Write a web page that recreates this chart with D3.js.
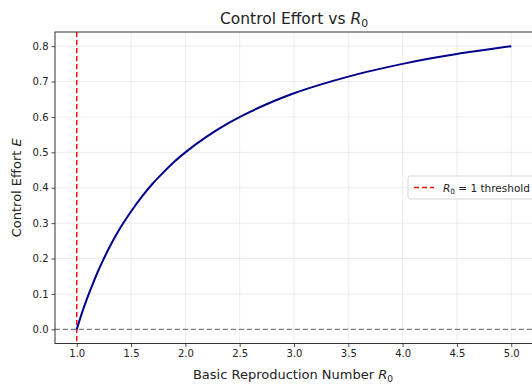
<!DOCTYPE html>
<html>
<head>
<meta charset="UTF-8">
<script src="https://d3js.org/d3.v7.min.js"></script>
<style>
  body { margin: 0; background: #fff; font-family: 'DejaVu Sans', sans-serif; }
  svg text { fill: #222; }
</style>
</head>
<body>
<svg id="chart" width="532" height="385"></svg>
<script>
// R0 values and control effort
const r0 = [1.0, 1.05, 1.1, 1.15, 1.2, 1.25, 1.3, 1.4, 1.5, 1.6, 1.7, 1.8, 1.9, 2.0,
            2.2, 2.4, 2.6, 2.8, 3.0, 3.25, 3.5, 3.75, 4.0, 4.25, 4.5, 4.75, 5.0];
const effort = [0.0, 0.048, 0.091, 0.130, 0.167, 0.200, 0.231, 0.286, 0.333, 0.375, 0.412, 0.444, 0.474, 0.500,
                0.545, 0.583, 0.615, 0.643, 0.667, 0.692, 0.714, 0.733, 0.750, 0.765, 0.778, 0.789, 0.800];
const xTicks = [1.0, 1.5, 2.0, 2.5, 3.0, 3.5, 4.0, 4.5, 5.0];
const yTicks = [0.0, 0.1, 0.2, 0.3, 0.4, 0.5, 0.6, 0.7, 0.8];
const threshold = 1.0;

const svg = d3.select('#chart');
const m = { left: 55, top: 32, right: 533, bottom: 343.5 };

const x = d3.scaleLinear().domain([0.8, 5.2]).range([m.left, m.right]);
const y = d3.scaleLinear().domain([-0.04, 0.84]).range([m.bottom, m.top]);

// grid
svg.append('g').selectAll('line').data(xTicks).join('line')
  .attr('x1', d => x(d)).attr('x2', d => x(d))
  .attr('y1', m.top).attr('y2', m.bottom)
  .attr('stroke', '#b0b0b0').attr('stroke-opacity', 0.3).attr('stroke-width', 0.8);
svg.append('g').selectAll('line').data(yTicks).join('line')
  .attr('x1', m.left).attr('x2', m.right)
  .attr('y1', d => y(d)).attr('y2', d => y(d))
  .attr('stroke', '#b0b0b0').attr('stroke-opacity', 0.3).attr('stroke-width', 0.8);

// zero line
svg.append('line')
  .attr('x1', m.left).attr('x2', m.right)
  .attr('y1', y(0)).attr('y2', y(0))
  .attr('stroke', 'gray').attr('stroke-width', 1.2).attr('stroke-dasharray', '5,3');

// threshold line
svg.append('line')
  .attr('x1', x(threshold)).attr('x2', x(threshold))
  .attr('y1', m.top).attr('y2', m.bottom)
  .attr('stroke', 'red').attr('stroke-width', 1.4).attr('stroke-dasharray', '5,3');

// curve
const line = d3.line().x((d, i) => x(r0[i])).y(d => y(d)).curve(d3.curveMonotoneX);
svg.append('path').datum(effort)
  .attr('d', line)
  .attr('fill', 'none').attr('stroke', 'darkblue').attr('stroke-width', 2);

// axes
const xAxis = svg.append('g').attr('transform', `translate(0,${m.bottom})`)
  .call(d3.axisBottom(x).tickValues(xTicks).tickFormat(d3.format('.1f')).tickSize(3.5).tickPadding(3));
const yAxis = svg.append('g').attr('transform', `translate(${m.left},0)`)
  .call(d3.axisLeft(y).tickValues(yTicks).tickFormat(d3.format('.1f')).tickSize(3.5).tickPadding(3));
[xAxis, yAxis].forEach(a => {
  a.select('.domain').remove();
  a.selectAll('text').style('font-family', 'DejaVu Sans').style('font-size', '10px').attr('fill', '#222');
  a.selectAll('line').attr('stroke', '#222').attr('stroke-width', 0.8);
});

// frame
svg.append('rect')
  .attr('x', m.left).attr('y', m.top)
  .attr('width', m.right - m.left).attr('height', m.bottom - m.top)
  .attr('fill', 'none').attr('stroke', '#333').attr('stroke-width', 1);

function rSub(t, size) {
  t.append('tspan').attr('font-style', 'italic').text('R');
  t.append('tspan').attr('font-size', size * 0.7).attr('dy', size * 0.22).text('0');
}

// title
const title = svg.append('text').attr('x', (m.left + m.right) / 2).attr('y', 24)
  .attr('text-anchor', 'middle').attr('font-size', 15.5);
title.append('tspan').text('Control Effort vs ');
rSub(title, 15.5);

// x label
const xl = svg.append('text').attr('x', (m.left + m.right) / 2 - 1).attr('y', 379)
  .attr('text-anchor', 'middle').attr('font-size', 13);
xl.append('tspan').text('Basic Reproduction Number ');
rSub(xl, 13);

// y label
svg.append('text')
  .attr('transform', `translate(21,${(m.top + m.bottom) / 2}) rotate(-90)`)
  .attr('text-anchor', 'middle').attr('font-size', 13)
  .html('Control Effort <tspan font-style="italic">E</tspan>');

// legend
const lg = svg.append('g').attr('transform', 'translate(408,176)');
lg.append('rect').attr('width', 140).attr('height', 23).attr('rx', 2)
  .attr('fill', 'white').attr('fill-opacity', 0.8).attr('stroke', '#ccc').attr('stroke-width', 0.8);
lg.append('line').attr('x1', 6).attr('x2', 26).attr('y1', 11.5).attr('y2', 11.5)
  .attr('stroke', 'red').attr('stroke-width', 1.4).attr('stroke-dasharray', '5,3');
const lt = lg.append('text').attr('x', 35).attr('y', 15.5).attr('font-size', 10.5);
rSub(lt, 10.5);
lt.append('tspan').attr('dy', -10.5 * 0.22).text(' = 1 threshold');
</script>
</body>
</html>
